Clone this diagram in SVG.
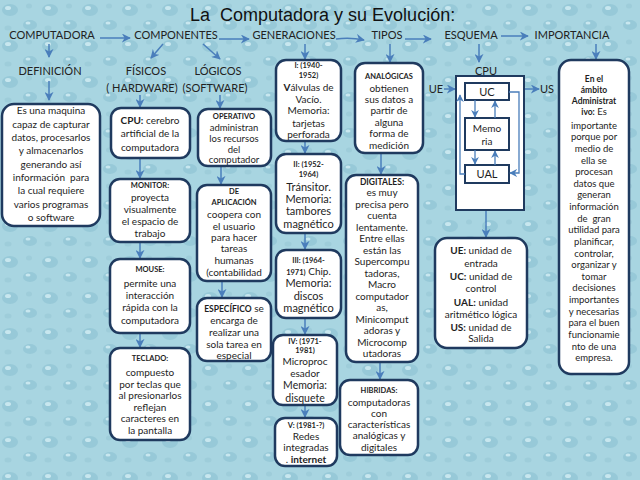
<svg xmlns="http://www.w3.org/2000/svg" width="640" height="480" viewBox="0 0 640 480">
<defs>
<pattern id="bg" width="40" height="36" patternUnits="userSpaceOnUse">
<rect width="40" height="36" fill="#a8d5e1"/>
<ellipse cx="10" cy="10" rx="8" ry="6" fill="#97c9d8"/>
<ellipse cx="8" cy="8" rx="3" ry="2" fill="#c8e7ef"/>
<ellipse cx="30" cy="25" rx="7" ry="5" fill="#97c9d8"/>
<ellipse cx="28" cy="23" rx="2.5" ry="1.5" fill="#c8e7ef"/>
<ellipse cx="29" cy="6" rx="3" ry="2.5" fill="#9ecdda"/>
<ellipse cx="8" cy="28" rx="3.5" ry="2.5" fill="#9ecdda"/>
</pattern>
<marker id="ar" viewBox="0 0 10 10" refX="9" refY="5" markerWidth="6" markerHeight="6" orient="auto">
<path d="M0,0 L10,5 L0,10 L3,5 Z" fill="#4a7ebb"/>
</marker>
<style>
.box{fill:#fff;stroke:#1f3a5f;stroke-width:2.5}
.sq{fill:#fff;stroke:#1f3a5f;stroke-width:2}
.c{fill:none;stroke:#4a7ebb;stroke-width:1.5;marker-end:url(#ar)}
.c2{fill:none;stroke:#4a7ebb;stroke-width:1.3;marker-end:url(#ar)}
text{font-family:Lato,"Liberation Sans",sans-serif;fill:#1e1e1e;text-anchor:middle;font-size:10px}
.lab{font-size:11px;fill:#222}
.h{font-weight:bold;font-size:7.5px}
.m{font-size:11px}
.m2{font-size:10.5px}
.s{font-size:9.5px}
.hb{font-weight:bold;font-size:8.5px}
.title{font-family:"Liberation Sans",Arial,sans-serif;font-size:18px;text-anchor:start;fill:#111}
</style>
</defs>
<rect width="640" height="480" fill="url(#bg)"/>

<text class="title" x="190" y="21">La&#160; Computadora y su Evolución:</text>

<g id="labels">
<text class="lab" x="52" y="39">COMPUTADORA</text>
<text class="lab" x="176" y="39">COMPONENTES</text>
<text class="lab" x="294" y="39">GENERACIONES</text>
<text class="lab" x="387" y="39">TIPOS</text>
<text class="lab" x="471" y="39">ESQUEMA</text>
<text class="lab" x="572" y="39">IMPORTANCIA</text>
<text class="lab" x="50" y="75">DEFINICIÓN</text>
<text class="lab" x="146" y="75">FÍSICOS</text>
<text class="lab" x="142" y="92">( HARDWARE)</text>
<text class="lab" x="218" y="75">LÓGICOS</text>
<text class="lab" x="215" y="92">(SOFTWARE)</text>
</g>

<g id="connectors">
<path class="c" d="M100,38 H130"/>
<path class="c" d="M219,39 H249"/>
<path class="c" d="M336,39 Q350,37 364,40"/>
<path class="c" d="M405,39 H431"/>
<path class="c" d="M501,36 H528"/>
<path class="c" d="M49,44 V57"/>
<path class="c" d="M49,81 V100"/>
<path class="c" d="M163,44 L151,58"/>
<path class="c" d="M203,44 L220,59"/>
<path class="c" d="M140,95 V107"/>
<path class="c" d="M220,95 V108"/>
<path class="c" d="M305,44 V59"/>
<path class="c" d="M390,44 V62"/>
<path class="c" d="M479,44 V62"/>
<path class="c" d="M596,44 V59"/>
<path class="c" d="M140,158 V178"/>
<path class="c" d="M140,242 V258"/>
<path class="c" d="M140,333 V347"/>
<path class="c" d="M221,166 V184"/>
<path class="c" d="M222,281 V297"/>
<path class="c" d="M305,141 V153"/>
<path class="c" d="M305,233 V249"/>
<path class="c" d="M305,318 V334"/>
<path class="c" d="M305,405 V417"/>
<path class="c" d="M381,153 V174"/>
<path class="c" d="M380,362 V379"/>
<path class="c" d="M444,89 H455"/>
<path class="c" d="M525,89 H539"/>
<path class="c" d="M486,211 V237"/>
</g>

<g id="definicion">
<rect class="box" x="2" y="104" width="98" height="122" rx="12"/>
<text x="51" y="114">Es una maquina</text>
<text x="51" y="127.5">capaz de capturar</text>
<text x="51" y="141">datos, procesarlos</text>
<text x="51" y="154">y almacenarlos</text>
<text x="51" y="167.5">generando así</text>
<text x="51" y="181">información&#160; para</text>
<text x="51" y="194">la cual requiere</text>
<text x="51" y="207.5">varios programas</text>
<text x="51" y="221">o software</text>
</g>

<g id="cpu">
<rect class="box" x="111" y="108" width="79" height="50" rx="10"/>
<text x="150" y="124"><tspan font-weight="bold">CPU:</tspan> cerebro</text>
<text x="150" y="137">artificial de la</text>
<text x="150" y="150.5">computadora</text>
</g>

<g id="monitor">
<rect class="box" x="110" y="179" width="80" height="63" rx="10"/>
<text class="h" x="150" y="188">MONITOR:</text>
<text x="150" y="200.5">proyecta</text>
<text x="150" y="212.5">visualmente</text>
<text x="150" y="224.5">el espacio de</text>
<text x="150" y="236.5">trabajo</text>
</g>

<g id="mouse">
<rect class="box" x="110" y="259" width="80" height="74" rx="10"/>
<text class="h" x="150" y="272">MOUSE:</text>
<text x="150" y="286.5">permite una</text>
<text x="150" y="298.5">interacción</text>
<text x="150" y="310.5">rápida con la</text>
<text x="150" y="323.5">computadora</text>
</g>

<g id="teclado">
<rect class="box" x="110" y="348" width="80" height="92" rx="10"/>
<text class="h" x="150" y="361">TECLADO:</text>
<text x="150" y="375.5">compuesto</text>
<text x="150" y="387.5">por teclas que</text>
<text x="150" y="398.5">al presionarlos</text>
<text x="150" y="410.5">reflejan</text>
<text x="150" y="421.5">caracteres en</text>
<text x="150" y="433.5">la pantalla</text>
</g>

<g id="operativo">
<rect class="box" x="198" y="109" width="73" height="57" rx="10"/>
<text class="h" x="234" y="119">OPERATIVO</text>
<text class="s" x="234" y="130.5">administran</text>
<text class="s" x="234" y="142">los recursos</text>
<text class="s" x="234" y="152.5">del</text>
<text class="s" x="234" y="162.5">computador</text>
</g>

<g id="aplicacion">
<rect class="box" x="197" y="185" width="74" height="96" rx="10"/>
<text class="h" x="234" y="194">DE</text>
<text class="h" x="234" y="205">APLICACIÓN</text>
<text x="234" y="217.5">coopera con</text>
<text x="234" y="229.5">el usuario</text>
<text x="234" y="240.5">para hacer</text>
<text x="234" y="251.5">tareas</text>
<text x="234" y="263.5">humanas</text>
<text x="234" y="275.5">(contabilidad</text>
</g>

<g id="especifico">
<rect class="box" x="197" y="298" width="74" height="63" rx="10"/>
<text x="234" y="311.5"><tspan font-weight="bold" font-size="8.5">ESPECÍFICO</tspan> se</text>
<text x="234" y="323.5">encarga de</text>
<text x="234" y="335.5">realizar una</text>
<text x="234" y="347.5">sola tarea en</text>
<text x="234" y="359">especial</text>
</g>

<g id="gen1">
<rect class="box" x="276" y="60" width="65" height="81" rx="10"/>
<text class="h" x="308.5" y="68">I: (1940-</text>
<text class="h" x="308.5" y="78">1952)</text>
<text x="308.5" y="90.5"><tspan font-weight="bold">V</tspan>álvulas de</text>
<text x="308.5" y="102.5">Vacío.</text>
<text x="308.5" y="113.5">Memoria:</text>
<text x="308.5" y="126.5">tarjetas</text>
<text x="308.5" y="137.5">perforada</text>
</g>

<g id="gen2">
<rect class="box" x="276" y="154" width="65" height="79" rx="10"/>
<text class="h" x="308.5" y="167">II: (1952-</text>
<text class="h" x="308.5" y="177">1964)</text>
<text class="m" x="308.5" y="191">Tránsitor.</text>
<text class="m" x="308.5" y="203">Memoria:</text>
<text class="m" x="308.5" y="215">tambores</text>
<text class="m" x="308.5" y="228">magnético</text>
</g>

<g id="gen3">
<rect class="box" x="276" y="250" width="65" height="68" rx="10"/>
<text class="h" x="308.5" y="263">III: (1964-</text>
<text x="308.5" y="274.5"><tspan font-weight="bold" font-size="7.5">1971)</tspan> Chip.</text>
<text class="m" x="308.5" y="287">Memoria:</text>
<text class="m" x="308.5" y="299.5">discos</text>
<text class="m" x="308.5" y="312">magnético</text>
</g>

<g id="gen4">
<rect class="box" x="273" y="335" width="64" height="70" rx="10"/>
<text class="h" x="305" y="343.5">IV: (1971-</text>
<text class="h" x="305" y="353">1981)</text>
<text x="305" y="364.5">Microproc</text>
<text x="305" y="376.5">esador</text>
<text class="m2" x="305" y="389">Memoria:</text>
<text class="m2" x="305" y="401.5">disquete</text>
</g>

<g id="gen5">
<rect class="box" x="275" y="418" width="62" height="48" rx="10"/>
<text class="h" x="306" y="428">V: (1981-?)</text>
<text x="306" y="439.5">Redes</text>
<text x="306" y="450.5">integradas</text>
<text x="306" y="462.5">. <tspan font-weight="bold">internet</tspan></text>
</g>

<g id="analogicas">
<rect class="box" x="355" y="63" width="68" height="90" rx="10"/>
<text class="h" x="389" y="79">ANALÓGICAS</text>
<text x="389" y="91.5">obtienen</text>
<text x="389" y="102.5">sus datos a</text>
<text x="389" y="113.5">partir de</text>
<text x="389" y="125.5">alguna</text>
<text x="389" y="136.5">forma de</text>
<text x="389" y="148.5">medición</text>
</g>

<g id="digitales">
<rect class="box" x="346" y="175" width="72" height="187" rx="10"/>
<text class="hb" x="382" y="184.5">DIGITALES:</text>
<text x="382" y="196">es muy</text>
<text x="382" y="207.5">precisa pero</text>
<text x="382" y="219">cuenta</text>
<text x="382" y="230.5">lentamente.</text>
<text x="382" y="242">Entre ellas</text>
<text x="382" y="253.5">están las</text>
<text x="382" y="265">Supercompu</text>
<text x="382" y="276.5">tadoras,</text>
<text x="382" y="288">Macro</text>
<text x="382" y="299.5">computador</text>
<text x="382" y="311">as,</text>
<text x="382" y="322.5">Minicomput</text>
<text x="382" y="334">adoras y</text>
<text x="382" y="345.5">Microcomp</text>
<text x="382" y="357">utadoras</text>
</g>

<g id="hibridas">
<rect class="box" x="340" y="380" width="78" height="75" rx="10"/>
<text class="h" x="379" y="393">HIBRIDAS:</text>
<text x="379" y="405.5">computadoras</text>
<text x="379" y="416.5">con</text>
<text x="379" y="427.5">características</text>
<text x="379" y="438.5">analógicas y</text>
<text x="379" y="450.5">digitales</text>
</g>

<g id="esquema">
<text class="lab" x="486" y="75">CPU</text>
<rect class="sq" x="456" y="76" width="68" height="134"/>
<rect class="sq" x="465" y="83" width="44" height="17"/>
<text class="m" x="487" y="95.5">UC</text>
<rect class="sq" x="465" y="118" width="44" height="32"/>
<text x="487" y="132">Memo</text>
<text x="487" y="145">ria</text>
<rect class="sq" x="465" y="165" width="44" height="18"/>
<text class="m" x="487" y="178">UAL</text>
<path class="c2" d="M475,100 V117"/>
<path class="c2" d="M495,118 V101"/>
<path class="c2" d="M475,150 V164"/>
<path class="c2" d="M495,165 V151"/>
<path class="c2" d="M465,174 H460 V95"/>
<path class="c2" d="M509,92 H519 V173 H510"/>
<text class="lab" x="436" y="93">UE</text>
<text class="lab" x="547" y="93">US</text>
</g>

<g id="unidades">
<rect class="box" x="435" y="238" width="92" height="110" rx="12"/>
<text x="481" y="254"><tspan font-weight="bold">UE:</tspan> unidad de</text>
<text x="481" y="267">entrada</text>
<text x="481" y="280"><tspan font-weight="bold">UC:</tspan> unidad de</text>
<text x="481" y="292">control</text>
<text x="481" y="306"><tspan font-weight="bold">UAL:</tspan> unidad</text>
<text x="481" y="318">aritmético lógica</text>
<text x="481" y="331"><tspan font-weight="bold">US:</tspan> unidad de</text>
<text x="481" y="342">Salida</text>
</g>

<g id="importancia">
<rect class="box" x="559" y="60" width="70" height="314" rx="12"/>
<text class="hb" x="594" y="81.5">En el</text>
<text class="hb" x="594" y="92.5">ámbito</text>
<text class="hb" x="594" y="103.5">Administrat</text>
<text class="s" x="594" y="115"><tspan font-weight="bold" font-size="8.5">ivo:</tspan> Es</text>
<text class="s" x="594" y="128.5">importante</text>
<text class="s" x="594" y="140">porque por</text>
<text class="s" x="594" y="151.5">medio de</text>
<text class="s" x="594" y="163.5">ella se</text>
<text class="s" x="594" y="175">procesan</text>
<text class="s" x="594" y="186.5">datos que</text>
<text class="s" x="594" y="198">generan</text>
<text class="s" x="594" y="210">información</text>
<text class="s" x="594" y="221.5">de&#160; gran</text>
<text class="s" x="594" y="233">utilidad para</text>
<text class="s" x="594" y="245">planificar,</text>
<text class="s" x="594" y="256.5">controlar,</text>
<text class="s" x="594" y="268">organizar y</text>
<text class="s" x="594" y="279.5">tomar</text>
<text class="s" x="594" y="291">decisiones</text>
<text class="s" x="594" y="303">importantes</text>
<text class="s" x="594" y="314.5">y necesarias</text>
<text class="s" x="594" y="326">para el buen</text>
<text class="s" x="594" y="338">funcionamie</text>
<text class="s" x="594" y="349.5">nto de una</text>
<text class="s" x="594" y="361">empresa.</text>
</g>
</svg>
